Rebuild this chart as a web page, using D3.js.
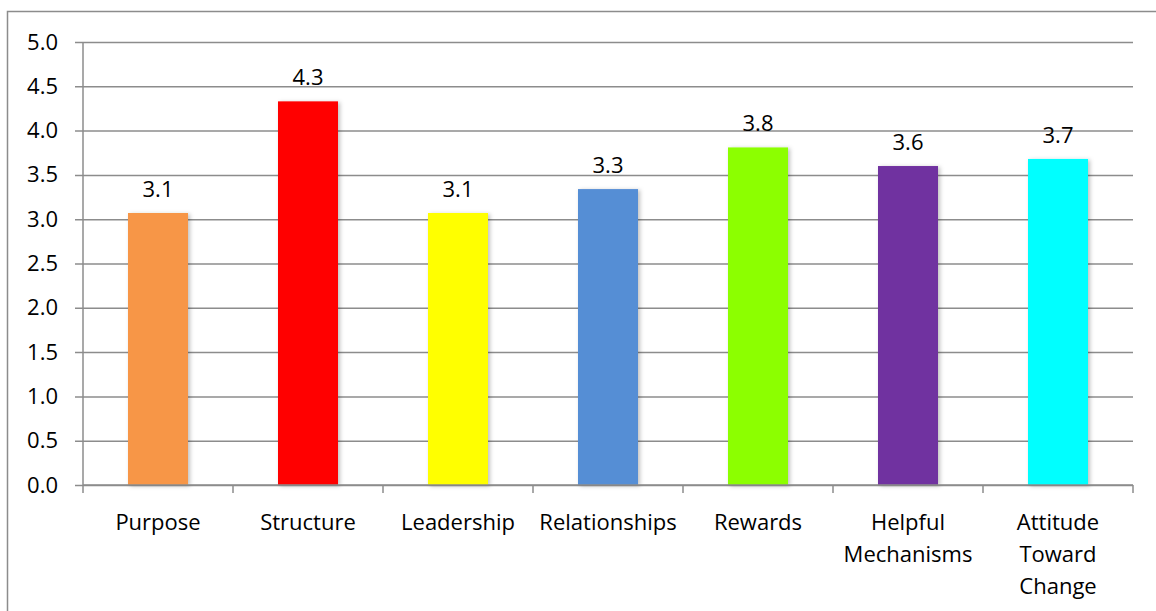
<!DOCTYPE html>
<html>
<head>
<meta charset="utf-8">
<script src="https://cdn.jsdelivr.net/npm/d3@7"></script>
<style>
  html, body { margin: 0; padding: 0; background: #fff; }
  svg { display: block; }
  text { font-family: "Open Sans", Lato, sans-serif; fill: #000; }
</style>
</head>
<body>
<svg id="chart" width="1156" height="611"></svg>
<script>
// Mean scores by dimension
const categories = ["Purpose", "Structure", "Leadership", "Relationships", "Rewards", "Helpful Mechanisms", "Attitude Toward Change"];
const categoryLines = [["Purpose"], ["Structure"], ["Leadership"], ["Relationships"], ["Rewards"], ["Helpful", "Mechanisms"], ["Attitude", "Toward", "Change"]];
const scores = [3.07, 4.33, 3.07, 3.34, 3.81, 3.60, 3.68];
const barColors = ["#F79646", "#FF0000", "#FFFF00", "#558ED5", "#8CFF00", "#7030A0", "#00FFFF"];
const yTicks = [0, 0.5, 1, 1.5, 2, 2.5, 3, 3.5, 4, 4.5, 5];

const svg = d3.select("#chart");
const W = 1156, H = 611;
const margin = { left: 83, right: 23, top: 42, bottom: 126 };
const plotW = W - margin.left - margin.right;
const plotH = H - margin.top - margin.bottom;
const fontSize = 22;

// Outer chart frame
svg.append("rect")
  .attr("x", 7.5).attr("y", 11.5)
  .attr("width", W + 10).attr("height", H + 10)
  .attr("fill", "none").attr("stroke", "#8c8c8c").attr("stroke-width", 1.5);

const defs = svg.append("defs");
const shadow = defs.append("filter").attr("id", "barShadow")
  .attr("x", "-20%").attr("y", "-10%").attr("width", "140%").attr("height", "120%");
shadow.append("feDropShadow").attr("dx", 2).attr("dy", 1).attr("stdDeviation", 2)
  .attr("flood-color", "#000").attr("flood-opacity", 0.25);

const g = svg.append("g").attr("transform", `translate(${margin.left},${margin.top})`);

const x = d3.scaleBand().domain(categories).range([0, plotW]).paddingInner(0.6).paddingOuter(0.3);
const xBand = d3.scaleBand().domain(categories).range([0, plotW]);
const y = d3.scaleLinear().domain([0, 5]).range([plotH, 0]);

// Horizontal gridlines with left tick stubs
const yAxis = d3.axisLeft(y).tickValues(yTicks).tickFormat(d3.format(".1f"))
  .tickSize(-plotW).tickPadding(25);
const yg = g.append("g").call(yAxis);
yg.select(".domain").remove();
yg.selectAll(".tick line").attr("stroke", "#8c8c8c").attr("stroke-width", 1.5).attr("x1", -8);
yg.selectAll(".tick text").attr("font-size", fontSize).attr("font-family", "'Open Sans', sans-serif");

// Vertical axis line
g.append("line").attr("x1", 0).attr("x2", 0).attr("y1", 0).attr("y2", plotH)
  .attr("stroke", "#8c8c8c").attr("stroke-width", 1.5);

// Bars
g.selectAll("rect.bar").data(categories).join("rect")
  .attr("class", "bar")
  .attr("x", d => x(d))
  .attr("width", x.bandwidth())
  .attr("y", (d, i) => y(scores[i]))
  .attr("height", (d, i) => plotH - y(scores[i]))
  .attr("fill", (d, i) => barColors[i])
  .attr("filter", "url(#barShadow)");

// Value labels
g.selectAll("text.val").data(categories).join("text")
  .attr("class", "val")
  .attr("x", d => x(d) + x.bandwidth() / 2)
  .attr("y", (d, i) => y(scores[i]) - 16)
  .attr("text-anchor", "middle")
  .attr("font-size", fontSize)
  .text((d, i) => d3.format(".1f")(scores[i]));

// Category axis with ticks at band boundaries
g.append("line").attr("x1", 0).attr("x2", plotW).attr("y1", plotH).attr("y2", plotH)
  .attr("stroke", "#8c8c8c").attr("stroke-width", 1.5);
const bounds = categories.map(d => xBand(d)).concat([plotW]);
g.selectAll("line.xtick").data(bounds).join("line")
  .attr("class", "xtick")
  .attr("x1", d => d).attr("x2", d => d)
  .attr("y1", plotH).attr("y2", plotH + 8)
  .attr("stroke", "#8c8c8c").attr("stroke-width", 1.5);

const labels = g.selectAll("text.cat").data(categories).join("text")
  .attr("class", "cat")
  .attr("x", d => xBand(d) + xBand.bandwidth() / 2)
  .attr("y", plotH + 45)
  .attr("text-anchor", "middle")
  .attr("font-size", fontSize);
labels.each(function(d, i) {
  d3.select(this).selectAll("tspan").data(categoryLines[i]).join("tspan")
    .attr("x", xBand(d) + xBand.bandwidth() / 2)
    .attr("dy", (t, j) => j === 0 ? 0 : 32)
    .text(t => t);
});
</script>
</body>
</html>
